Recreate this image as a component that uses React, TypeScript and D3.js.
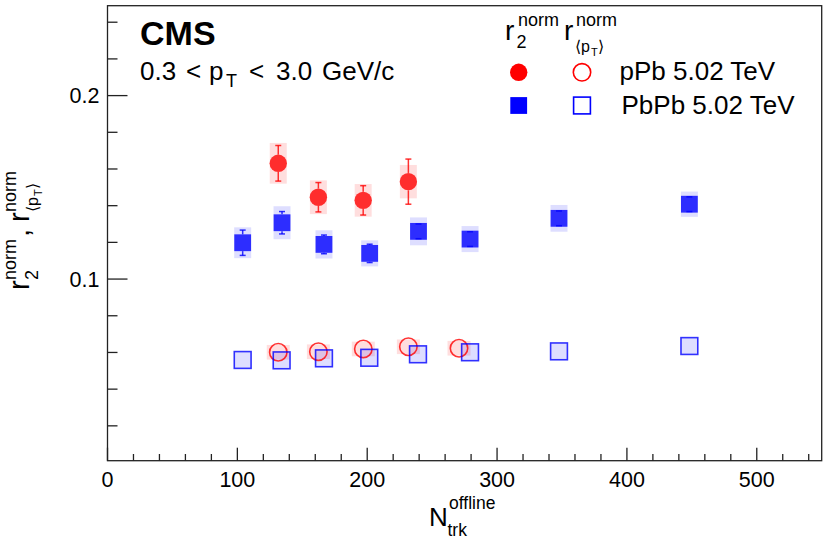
import React from "react";
import * as d3 from "d3";

// ---- data ----
const pPbN = [131.5, 162.4, 196.9, 231.7];
const pPbR2 = [0.1631, 0.1446, 0.1429, 0.1531];
const pPbR2Stat = [0.0097, 0.008, 0.008, 0.0123];
const pPbR2Sys = [0.0111, 0.0092, 0.0089, 0.0091];

const pPbPtN = [131.5, 162.4, 197.0, 231.7, 270.7];
const pPbPt = [0.0601, 0.0604, 0.0619, 0.0631, 0.0623];
const pPbPtSys = [0.004, 0.004, 0.004, 0.004, 0.004];

const PbPbN = [104.1, 134.4, 166.7, 201.9, 239.5, 279.2, 347.7, 448.1];
const PbPbR2 = [0.1198, 0.1307, 0.1189, 0.114, 0.126, 0.1218, 0.1331, 0.1408];
const PbPbR2Stat = [0.0069, 0.0061, 0.0051, 0.005, 0.004, 0.004, 0.004, 0.004];
const PbPbR2Sys = [0.0084, 0.009, 0.0077, 0.0071, 0.0076, 0.0071, 0.0073, 0.0069];

const PbPbPtN = [104.1, 134.1, 166.7, 201.6, 239.1, 279.2, 347.7, 448.1];
const PbPbPt = [0.0559, 0.0557, 0.0568, 0.0571, 0.059, 0.0601, 0.0606, 0.0635];
const PbPbPtSys = [0.0045, 0.0045, 0.0045, 0.0045, 0.0045, 0.0045, 0.0045, 0.0045];

const xMajorTicks = [0, 100, 200, 300, 400, 500];
const yMajorTicks = [0.1, 0.2];
const yTickLabels = ["0.1", "0.2"];

const FONT = "'Liberation Sans', Arial, Helvetica, sans-serif";
const RED = "rgba(255,0,0,0.8)";
const BLUE = "rgba(0,0,255,0.8)";
const PINK = "rgba(255,0,0,0.13)";
const LAV = "rgba(0,0,255,0.13)";
const AX = "#222";

export default function App() {
  const W = 830, H = 542;
  const x = d3.scaleLinear().domain([0, 550]).range([107.5, 821.7]);
  const y = d3.scaleLinear().domain([0.001, 0.249]).range([460.7, 5.7]);
  const x0 = x.range()[0], x1 = x.range()[1];
  const yb = y.range()[0], yt = y.range()[1];

  const xMinor = d3.range(20, 550, 20).filter((v) => v % 100 !== 0);
  const yMinor = d3.range(0.02, 0.249, 0.02).filter((v) => Math.abs(v - 0.1) > 1e-6 && Math.abs(v - 0.2) > 1e-6);

  const R = 8.7; // circle radius
  const S = 8.4; // half square

  const errBar = (cx: number, v: number, e: number, half: number, color: string, key: string) => {
    const yc = y(v), ytop = y(v + e), ybot = y(v - e);
    const segs: any[] = [];
    if (ytop < yc - half) segs.push(<line key={key + "a"} x1={cx} x2={cx} y1={ytop} y2={yc - half} stroke={color} strokeWidth={1.5} />);
    if (ybot > yc + half) segs.push(<line key={key + "b"} x1={cx} x2={cx} y1={yc + half} y2={ybot} stroke={color} strokeWidth={1.5} />);
    segs.push(<line key={key + "c"} x1={cx - 3} x2={cx + 3} y1={ytop} y2={ytop} stroke={color} strokeWidth={1.5} />);
    segs.push(<line key={key + "d"} x1={cx - 3} x2={cx + 3} y1={ybot} y2={ybot} stroke={color} strokeWidth={1.5} />);
    return segs;
  };

  return (
    <svg width={W} height={H} style={{ position: "absolute", left: 0, top: 0, background: "#fff" }} fontFamily={FONT}>
      <rect x={0} y={0} width={W} height={H} fill="#fff" />
      {/* systematic boxes */}
      {pPbPtN.map((n, i) => (
        <rect key={"pps" + i} x={x(n) - 11.5} width={23} y={y(pPbPt[i] + pPbPtSys[i])} height={y(pPbPt[i] - pPbPtSys[i]) - y(pPbPt[i] + pPbPtSys[i])} fill={PINK} />
      ))}
      {PbPbPtN.map((n, i) => (
        <rect key={"bps" + i} x={x(n) - 8.5} width={17} y={y(PbPbPt[i] + PbPbPtSys[i])} height={y(PbPbPt[i] - PbPbPtSys[i]) - y(PbPbPt[i] + PbPbPtSys[i])} fill={LAV} />
      ))}
      {pPbN.map((n, i) => (
        <rect key={"prs" + i} x={x(n) - 8.5} width={17} y={y(pPbR2[i] + pPbR2Sys[i])} height={y(pPbR2[i] - pPbR2Sys[i]) - y(pPbR2[i] + pPbR2Sys[i])} fill={PINK} />
      ))}
      {PbPbN.map((n, i) => (
        <rect key={"brs" + i} x={x(n) - 8.5} width={17} y={y(PbPbR2[i] + PbPbR2Sys[i])} height={y(PbPbR2[i] - PbPbR2Sys[i]) - y(PbPbR2[i] + PbPbR2Sys[i])} fill={LAV} />
      ))}

      {/* error bars */}
      {pPbN.map((n, i) => errBar(x(n), pPbR2[i], pPbR2Stat[i], R, RED, "pe" + i))}
      {PbPbN.map((n, i) => errBar(x(n), PbPbR2[i], PbPbR2Stat[i], S, BLUE, "be" + i))}

      {/* markers */}
      {pPbPtN.map((n, i) => (
        <circle key={"ppm" + i} cx={x(n)} cy={y(pPbPt[i])} r={R} fill="none" stroke={RED} strokeWidth={1.6} />
      ))}
      {PbPbPtN.map((n, i) => (
        <rect key={"bpm" + i} x={x(n) - S} y={y(PbPbPt[i]) - S} width={2 * S} height={2 * S} fill="none" stroke={BLUE} strokeWidth={1.6} />
      ))}
      {pPbN.map((n, i) => (
        <circle key={"prm" + i} cx={x(n)} cy={y(pPbR2[i])} r={R} fill={RED} />
      ))}
      {PbPbN.map((n, i) => (
        <rect key={"brm" + i} x={x(n) - S} y={y(PbPbR2[i]) - S} width={2 * S} height={2 * S} fill={BLUE} />
      ))}

      {/* frame */}
      <rect x={x0} y={yt} width={x1 - x0} height={yb - yt} fill="none" stroke={AX} strokeWidth={1.3} />
      {/* x ticks */}
      {xMajorTicks.map((t) => (
        <line key={"xt" + t} x1={x(t)} x2={x(t)} y1={yb} y2={yb - 13} stroke={AX} strokeWidth={1.3} />
      ))}
      {xMinor.map((t) => (
        <line key={"xm" + t} x1={x(t)} x2={x(t)} y1={yb} y2={yb - 6.7} stroke={AX} strokeWidth={1.3} />
      ))}
      {xMajorTicks.map((t) => (
        <text key={"xl" + t} x={x(t)} y={487} fontSize={21.5} textAnchor="middle" fill="#000">{t}</text>
      ))}
      {/* y ticks */}
      {yMajorTicks.map((t) => (
        <line key={"yt" + t} x1={x0} x2={x0 + 20} y1={y(t)} y2={y(t)} stroke={AX} strokeWidth={1.3} />
      ))}
      {yMinor.map((t, i) => (
        <line key={"ym" + i} x1={x0} x2={x0 + 10} y1={y(t)} y2={y(t)} stroke={AX} strokeWidth={1.3} />
      ))}
      {yMajorTicks.map((t, i) => (
        <text key={"yl" + t} x={99.5} y={y(t) + 7.8} fontSize={21.5} textAnchor="end" fill="#000">{yTickLabels[i]}</text>
      ))}

      {/* x title */}
      <text x={429} y={526} fontSize={26} fill="#000">N</text>
      <text x={449} y={509} fontSize={17.5} fill="#000">offline</text>
      <text x={447.5} y={536} fontSize={17.5} fill="#000">trk</text>

      {/* y title */}
      <g transform="translate(29,290) rotate(-90)" fill="#000">
        <text x={0} y={0} fontSize={29}>r</text>
        <text x={10} y={-13} fontSize={18}>norm</text>
        <text x={10} y={9} fontSize={18}>2</text>
        <text x={53} y={0} fontSize={29}>,</text>
        <text x={68} y={0} fontSize={29}>r</text>
        <text x={78} y={-13} fontSize={18}>norm</text>
        <text x={78} y={9} fontSize={16}>{"\u27E8p"}</text>
        <text x={94} y={13} fontSize={11}>T</text>
        <text x={101} y={9} fontSize={16}>{"\u27E9"}</text>
      </g>

      {/* CMS labels */}
      <text x={140} y={45} fontSize={34} fontWeight="bold" fill="#000">CMS</text>
      <g fontSize={26} fill="#000">
        <text x={140} y={80}>0.3</text>
        <text x={186} y={80}>&lt;</text>
        <text x={209} y={80}>p</text>
        <text x={226} y={87} fontSize={18}>T</text>
        <text x={249} y={80}>&lt;</text>
        <text x={276} y={80}>3.0</text>
        <text x={322} y={80}>GeV/c</text>
      </g>

      {/* legend header */}
      <g fill="#000">
        <text x={505} y={40} fontSize={28}>r</text>
        <text x={518} y={26} fontSize={18}>norm</text>
        <text x={516.5} y={48} fontSize={18}>2</text>
        <text x={564} y={40} fontSize={28}>r</text>
        <text x={576} y={26} fontSize={18}>norm</text>
        <text x={575} y={52} fontSize={16}>{"\u27E8p"}</text>
        <text x={591} y={56} fontSize={11}>T</text>
        <text x={598} y={52} fontSize={16}>{"\u27E9"}</text>
      </g>
      {/* legend rows */}
      <circle cx={518.7} cy={72.3} r={R} fill="#ff0000" />
      <circle cx={582} cy={72.3} r={R} fill="none" stroke="#ff0000" strokeWidth={1.6} />
      <text x={619.5} y={80} fontSize={26} fill="#000">pPb 5.02 TeV</text>
      <rect x={518.7 - S} y={105.5 - S} width={2 * S} height={2 * S} fill="#0000ff" />
      <rect x={582 - S} y={105.5 - S} width={2 * S} height={2 * S} fill="none" stroke="#0000ff" strokeWidth={1.6} />
      <text x={621.5} y={114} fontSize={26} fill="#000">PbPb 5.02 TeV</text>
    </svg>
  );
}
